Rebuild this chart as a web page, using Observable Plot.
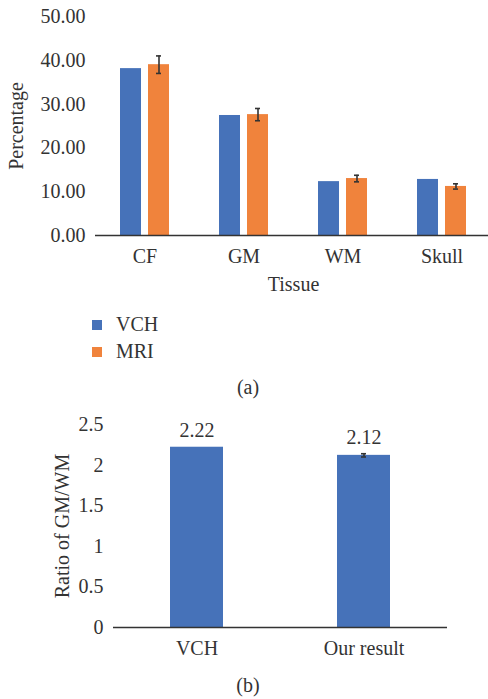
<!DOCTYPE html>
<html><head><meta charset="utf-8">
<script src="https://cdn.jsdelivr.net/npm/d3@7"></script>
<script src="https://cdn.jsdelivr.net/npm/@observablehq/plot@0.6"></script>
<style>
body{margin:0;background:#fff;font-family:"Liberation Serif","DejaVu Serif",serif;color:#333;}
#wrap{position:relative;width:488px;height:699px;overflow:hidden;}
#wrap svg, #wrap svg text{font-family:"Liberation Serif","DejaVu Serif",serif !important;}
.abs{position:absolute;}
.cap{font-size:20px;line-height:24px;text-align:center;width:488px;}
.row{display:flex;align-items:center;height:27px;font-size:20px;}
.sw{width:10px;height:10px;margin-right:14px;}
</style></head><body>
<div id="wrap">
<div id="a" class="abs" style="left:0;top:0"></div>
<div id="legend" class="abs" style="left:92px;top:311px"></div>
<div class="abs cap" style="left:4px;top:375px">(a)</div>
<div id="b" class="abs" style="left:0;top:400px"></div>
<div class="abs cap" style="left:4px;top:673px">(b)</div>
</div>
<script>
const tissues = ["CF", "GM", "WM", "Skull"];
const series = ["VCH", "MRI"];
const vchPct = [38.1, 27.4, 12.3, 12.8];
const mriPct = [39.0, 27.6, 13.0, 11.2];
const mriErr = [2.0, 1.4, 0.75, 0.6];
const colors = ["#4672B9", "#F0833C"];
const yTicksA = [0, 10, 20, 30, 40, 50];

const ratioCats = ["VCH", "Our result"];
const ratioVals = [2.22, 2.12];
const ratioErr = [0, 0.02];
const yTicksB = [0, 0.5, 1, 1.5, 2, 2.5];

const font = '"Liberation Serif", "DejaVu Serif", serif';
const ink = "#333";

const rowsA = tissues.flatMap((t, i) => [
  {tissue: t, series: "VCH", value: vchPct[i], err: 0},
  {tissue: t, series: "MRI", value: mriPct[i], err: mriErr[i]}
]);
const errA = rowsA.filter(d => d.err > 0);

const chartA = Plot.plot({
  width: 488, height: 300,
  marginLeft: 93, marginRight: -4, marginTop: 16, marginBottom: 65,
  style: {fontFamily: font, fontSize: "20px", color: ink, background: "white", overflow: "visible"},
  fx: {domain: tissues, padding: 0, label: "Tissue", labelAnchor: "center", labelOffset: 55, tickSize: 0, tickPadding: 13},
  x: {domain: series, paddingInner: 0.24, paddingOuter: 0.84, axis: null},
  y: {domain: [0, 50], ticks: yTicksA, tickFormat: d => d.toFixed(2), tickSize: 0, tickPadding: 10,
      label: "Percentage", labelAnchor: "center", labelOffset: 87, labelArrow: "none"},
  color: {domain: series, range: colors},
  marks: [
    Plot.barY(rowsA, {fx: "tissue", x: "series", y: "value", fill: "series"}),
    Plot.ruleX(errA, {fx: "tissue", x: "series", y1: d => d.value - d.err, y2: d => d.value + d.err, stroke: ink, strokeWidth: 1.6}),
    Plot.tickY(errA, {fx: "tissue", x: "series", y: d => d.value - d.err, stroke: ink, strokeWidth: 1.6, insetLeft: 8, insetRight: 8}),
    Plot.tickY(errA, {fx: "tissue", x: "series", y: d => d.value + d.err, stroke: ink, strokeWidth: 1.6, insetLeft: 8, insetRight: 8}),
    Plot.ruleY([0], {stroke: ink, strokeWidth: 1.5})
  ]
});
document.getElementById("a").appendChild(chartA);

const legend = document.getElementById("legend");
series.forEach((s, i) => {
  const row = document.createElement("div");
  row.className = "row";
  const sw = document.createElement("div");
  sw.className = "sw";
  sw.style.background = colors[i];
  const lab = document.createElement("span");
  lab.textContent = s;
  row.appendChild(sw); row.appendChild(lab);
  legend.appendChild(row);
});

const rowsB = ratioCats.map((c, i) => ({cat: c, value: ratioVals[i], err: ratioErr[i]}));
const errB = rowsB.filter(d => d.err > 0);

const chartB = Plot.plot({
  width: 488, height: 270,
  marginLeft: 113, marginRight: 41, marginTop: 24, marginBottom: 43,
  style: {fontFamily: font, fontSize: "20px", color: ink, background: "white", overflow: "visible"},
  x: {domain: ratioCats, paddingInner: 0.68, paddingOuter: 0.34, tickSize: 0, tickPadding: 13, label: null},
  y: {domain: [0, 2.5], ticks: yTicksB, tickFormat: d => String(d), tickSize: 0, tickPadding: 10,
      label: "Ratio of GM/WM", labelAnchor: "center", labelOffset: 59, labelArrow: "none"},
  marks: [
    Plot.barY(rowsB, {x: "cat", y: "value", fill: colors[0]}),
    Plot.ruleX(errB, {x: "cat", y1: d => d.value - d.err, y2: d => d.value + d.err, stroke: ink, strokeWidth: 1.6}),
    Plot.tickY(errB, {x: "cat", y: d => d.value - d.err, stroke: ink, strokeWidth: 1.6, insetLeft: 24, insetRight: 24}),
    Plot.tickY(errB, {x: "cat", y: d => d.value + d.err, stroke: ink, strokeWidth: 1.6, insetLeft: 24, insetRight: 24}),
    Plot.text(rowsB, {x: "cat", y: d => d.value + d.err, text: d => d.value.toFixed(2), dy: -10, lineAnchor: "bottom", fill: ink}),
    Plot.ruleY([0], {stroke: ink, strokeWidth: 1.5})
  ]
});
document.getElementById("b").appendChild(chartB);
</script>
</body></html>
